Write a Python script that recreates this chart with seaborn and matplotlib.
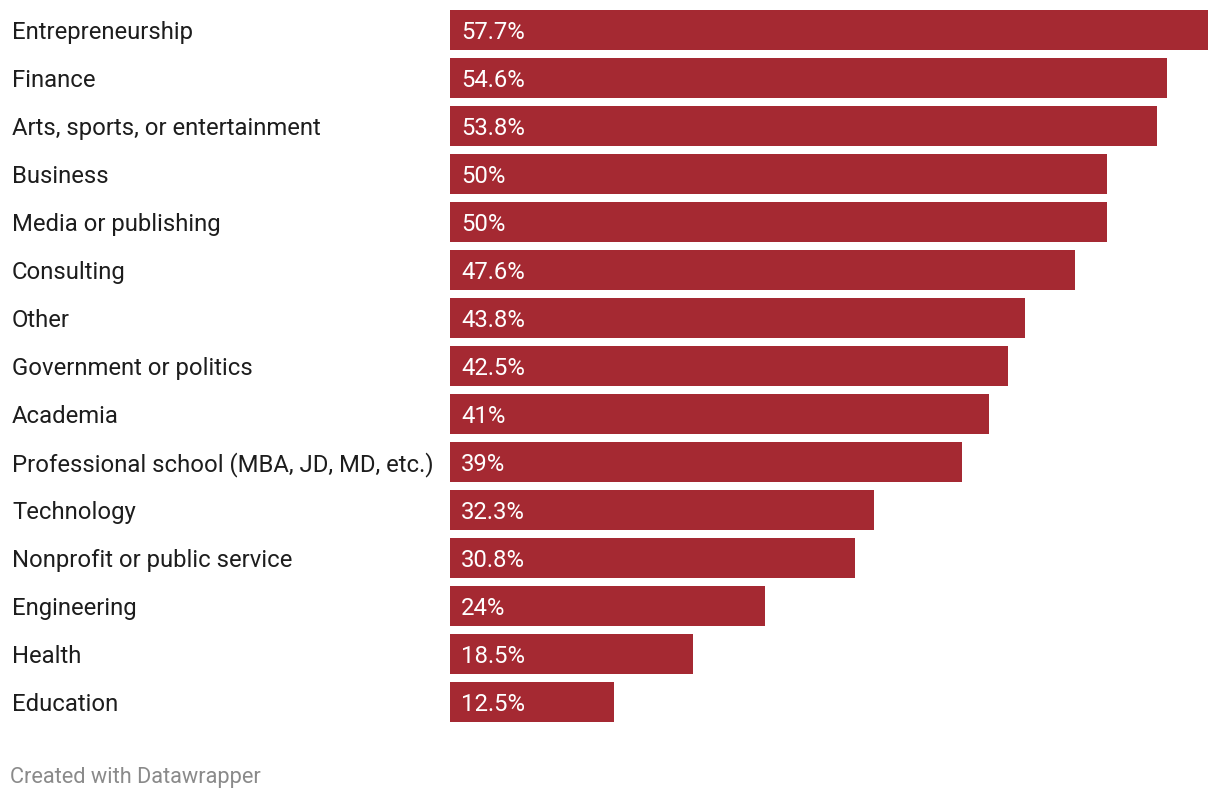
import matplotlib
matplotlib.use("Agg")
import matplotlib.pyplot as plt
import matplotlib.transforms as mtransforms
import seaborn as sns
import pandas as pd

categories = [
    "Entrepreneurship", "Finance", "Arts, sports, or entertainment", "Business",
    "Media or publishing", "Consulting", "Other", "Government or politics",
    "Academia", "Professional school (MBA, JD, MD, etc.)", "Technology",
    "Nonprofit or public service", "Engineering", "Health", "Education",
]
values = [57.7, 54.6, 53.8, 50, 50, 47.6, 43.8, 42.5, 41, 39, 32.3, 30.8, 24, 18.5, 12.5]
value_labels = ["57.7%", "54.6%", "53.8%", "50%", "50%", "47.6%", "43.8%", "42.5%",
                "41%", "39%", "32.3%", "30.8%", "24%", "18.5%", "12.5%"]

sns.set_style("white")
plt.rcParams["font.family"] = ["Roboto", "DejaVu Sans"]

df = pd.DataFrame({"category": categories, "value": values})

W, H = 1220, 798
fig = plt.figure(figsize=(W / 100, H / 100), dpi=100)
ax = fig.add_axes([450 / W, 1 - 722 / H, (1208 - 450) / W, (722 - 10) / H])

bw = 40 / 48
sns.barplot(data=df, x="value", y="category", orient="h", color="#a52932",
            saturation=1, width=bw, linewidth=0, edgecolor="none", ax=ax)
ax.set_xlim(0, max(values))
ax.set_ylim(len(categories) - 1 + bw / 2, -bw / 2)
ax.set_xlabel("")
ax.set_ylabel("")
ax.set_xticks([])
ax.set_yticks([])
for s in ax.spines.values():
    s.set_visible(False)

label_tr = mtransforms.blended_transform_factory(fig.transFigure, ax.transData)
off = mtransforms.ScaledTranslation(11 / 100, 0, fig.dpi_scale_trans)
for i, (c, v, lab) in enumerate(zip(categories, values, value_labels)):
    fig.text(12 / W, i, c, transform=label_tr, ha="left", va="center_baseline",
             fontsize=17.2, color="#1d1d1d")
    ax.text(0, i, lab, transform=ax.transData + off, ha="left", va="center_baseline",
            fontsize=17.2, color="white")

fig.text(10 / W, 1 - 775 / H, "Created with Datawrapper", ha="left", va="center_baseline",
         fontsize=15.7, color="#8a8a8a")

fig.savefig("out.png", dpi=100)
